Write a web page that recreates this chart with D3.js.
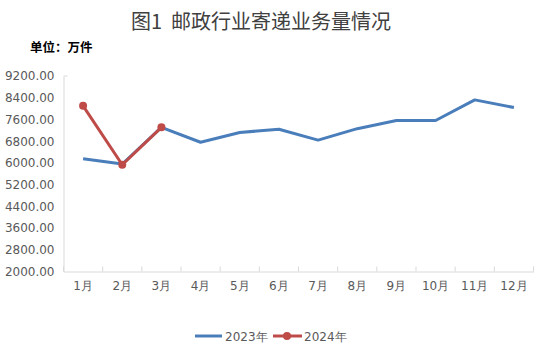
<!DOCTYPE html>
<html><head><meta charset="utf-8">
<script src="https://cdn.jsdelivr.net/npm/d3@7"></script>
<style>body{margin:0;background:#fff}svg{display:block}</style>
</head><body>
<script>
const months = ["1月","2月","3月","4月","5月","6月","7月","8月","9月","10月","11月","12月"];
const series2023 = [6150, 5960, 7310, 6760, 7120, 7240, 6840, 7260, 7560, 7560, 8320, 8040];
const series2024 = [8100, 5930, 7310];
const yTicks = [2000, 2800, 3600, 4400, 5200, 6000, 6800, 7600, 8400, 9200];
const seriesNames = ["2023年", "2024年"];

const W = 543, H = 357;
const svg = d3.select("body").append("svg").attr("width", W).attr("height", H);
const L = 63.5, R = 533.5, T = 76, B = 271.5;
const x = d3.scaleBand().domain(months).range([L, R]);
const y = d3.scaleLinear().domain([2000, 9200]).range([B, T]);
const fontNum = "'DejaVu Sans', sans-serif";
const grey = "#d9d9d9";

svg.append("text").attr("x", 261).attr("y", 29).attr("text-anchor", "middle")
  .style("white-space", "pre")
  .attr("font-family", "'Noto Sans CJK SC', sans-serif").attr("font-size", 20).attr("fill", "#404040")
  .text("图1  邮政行业寄递业务量情况");
svg.append("text").attr("x", 30).attr("y", 52)
  .attr("font-family", "'Noto Sans CJK SC', sans-serif").attr("font-size", 12.5).attr("font-weight", "bold").attr("fill", "#000")
  .text("单位：万件");

// y axis
const ya = svg.append("g").attr("transform", `translate(${L},0)`)
  .call(d3.axisLeft(y).tickValues(yTicks).tickFormat(d => d3.format(".2f")(d)).tickSize(0).tickPadding(9));
ya.select(".domain").attr("stroke", grey);
ya.selectAll("text").attr("font-family", fontNum).attr("font-size", 12).attr("fill", "#595959");
svg.append("line").attr("x1", L).attr("x2", L + 4).attr("y1", T).attr("y2", T).attr("stroke", grey);

// x axis
const xa = svg.append("g").attr("transform", `translate(0,${B})`)
  .call(d3.axisBottom(x).tickSize(0).tickPadding(10));
xa.select(".domain").attr("stroke", grey);
xa.selectAll("text").attr("font-family", fontNum).attr("font-size", 12).attr("fill", "#595959");
const bounds = months.map(m => x(m)).concat([R]);
svg.append("g").selectAll("line").data(bounds).join("line")
  .attr("x1", d => d).attr("x2", d => d).attr("y1", B).attr("y2", B - 5).attr("stroke", grey);

const cx = (d, i) => x(months[i]) + x.bandwidth() / 2;
const line = d3.line().x(cx).y(d => y(d));
const blue = "#4a7ebb", red = "#be4b48";
svg.append("path").datum(series2023).attr("d", line).attr("fill", "none")
  .attr("stroke", blue).attr("stroke-width", 3).attr("stroke-linejoin", "round");
svg.append("path").datum(series2024).attr("d", line).attr("fill", "none")
  .attr("stroke", red).attr("stroke-width", 3).attr("stroke-linejoin", "round");
svg.append("g").selectAll("circle").data(series2024).join("circle")
  .attr("cx", cx).attr("cy", d => y(d)).attr("r", 4).attr("fill", red);

// legend
const lg = svg.append("g").attr("font-family", fontNum).attr("font-size", 12).attr("fill", "#595959");
lg.append("line").attr("x1", 195).attr("x2", 222).attr("y1", 336).attr("y2", 336).attr("stroke", blue).attr("stroke-width", 3);
lg.append("text").attr("x", 225).attr("y", 340.5).text(seriesNames[0]);
lg.append("line").attr("x1", 273).attr("x2", 302).attr("y1", 336).attr("y2", 336).attr("stroke", red).attr("stroke-width", 3);
lg.append("circle").attr("cx", 287).attr("cy", 336).attr("r", 4).attr("fill", red);
lg.append("text").attr("x", 304).attr("y", 340.5).text(seriesNames[1]);
</script>
</body></html>
